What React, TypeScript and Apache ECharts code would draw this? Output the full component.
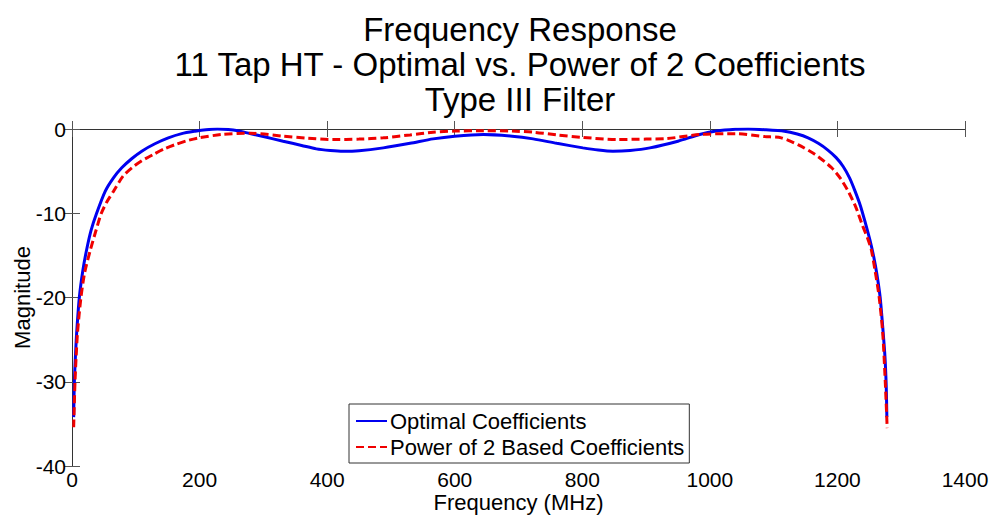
import React, { useEffect, useRef } from "react";
import * as echarts from "echarts";

const titleLines = [
  "Frequency Response",
  "11 Tap HT - Optimal vs. Power of 2 Coefficients",
  "Type III Filter",
];

const seriesNames = ["Optimal Coefficients", "Power of 2 Based Coefficients"];

// Optimal coefficients (MHz, magnitude)
const optFreq = [
  2.6, 3.7, 5.5, 7.3, 11.5, 17, 23, 30, 38.6, 52, 65, 78, 94, 110, 130, 151, 172, 193, 210, 228,
  245, 260, 279, 300, 331, 360, 383, 405, 425, 450, 488, 530, 566, 600, 645, 690, 723, 760, 801,
  825, 848, 875, 906, 950, 984, 1010, 1040, 1060, 1086, 1117, 1137, 1154, 1170, 1185, 1198, 1209,
  1219, 1227, 1236, 1244, 1251, 1257, 1262, 1267, 1271, 1274.5, 1276.5, 1277.5,
];
const optMag = [
  -34.2, -30, -26.8, -24.2, -20, -16.8, -14.3, -12, -10, -7.4, -5.8, -4.6, -3.5, -2.6, -1.75,
  -1.05, -0.55, -0.26, -0.08, 0, -0.05, -0.2, -0.54, -0.9, -1.45, -1.95, -2.36, -2.55, -2.64,
  -2.58, -2.24, -1.7, -1.17, -0.85, -0.65, -0.85, -1.17, -1.7, -2.24, -2.5, -2.64, -2.55, -2.24,
  -1.45, -0.65, -0.25, -0.03, 0, -0.08, -0.26, -0.6, -1.05, -1.7, -2.5, -3.4, -4.45, -5.8, -7.25,
  -9.1, -11.2, -13.2, -15.2, -17.3, -20, -23.5, -27, -30.5, -34.2,
];

// Power of 2 based coefficients (MHz, magnitude)
const p2Freq = [
  2.6, 4.7, 6.5, 8.6, 14, 20, 29, 37, 46, 55, 65, 80, 94, 110, 128, 145, 162, 180, 199, 235, 280,
  331, 370, 409, 450, 488, 530, 566, 600, 645, 690, 723, 760, 801, 854, 900, 932, 984, 1040, 1086,
  1112, 1138, 1164.6, 1191, 1205, 1217, 1229, 1239, 1247, 1253, 1259, 1265.5, 1271, 1275, 1278,
];
const p2Mag = [
  -35.4, -30, -27, -24.2, -20, -17, -14.3, -12.2, -10, -8.6, -7.4, -5.6, -4.6, -3.75, -3.0, -2.35,
  -1.85, -1.4, -1.05, -0.65, -0.5, -0.85, -1.1, -1.25, -1.2, -1.05, -0.7, -0.38, -0.25, -0.2,
  -0.25, -0.38, -0.7, -1.0, -1.25, -1.2, -1.15, -0.65, -0.55, -0.9, -1.05, -1.85, -3.0, -4.6,
  -5.9, -7.4, -9.3, -11.4, -12.9, -14.3, -16.8, -20, -24.2, -30, -35.5,
];

const xMin = 0;
const xMax = 1400;
const xStep = 200;
const yMin = -40;
const yMax = 0;
const yStep = 10;

const FONT = "Arial, 'Liberation Sans', sans-serif";

export default function App() {
  const ref = useRef<HTMLDivElement>(null);

  useEffect(() => {
    if (!ref.current) return;
    const chart = echarts.init(ref.current, undefined, { renderer: "svg" });
    const axisLine = { show: true, lineStyle: { color: "#333", width: 1 } };
    const tickIn = { show: true, inside: true, length: 8, lineStyle: { color: "#555", width: 1 } };
    const label = {
      color: "#000",
      fontSize: 21,
      fontFamily: FONT,
      formatter: (v: number) => String(v),
    };

    chart.setOption({
      animation: false,
      backgroundColor: "#fff",
      textStyle: { fontFamily: FONT },
      title: {
        text: titleLines.join("\n"),
        left: 515,
        top: 7,
        textAlign: "center",
        textStyle: { fontSize: 33, fontWeight: "normal", color: "#000", lineHeight: 35, fontFamily: FONT },
      },
      legend: {
        orient: "vertical",
        left: 349,
        top: 404,
        padding: [6, 5, 5, 6],
        itemGap: 4,
        itemWidth: 31,
        itemHeight: 14,
        backgroundColor: "#fff",
        borderColor: "#333",
        borderWidth: 1,
        borderRadius: 0,
        itemStyle: { opacity: 0 },
        textStyle: { fontSize: 22, color: "#000", fontFamily: FONT, padding: [0, 0, 0, -2] },
        data: seriesNames,
      },
      grid: {
        left: 72,
        right: 28,
        top: 129,
        bottom: 50,
        containLabel: false,
        outerBoundsMode: "none",
      },
      xAxis: [
        {
          type: "value",
          min: xMin,
          max: xMax,
          interval: xStep,
          position: "bottom",
          axisLine,
          axisTick: tickIn,
          axisLabel: { ...label, margin: 3 },
          splitLine: { show: false },
          name: "Frequency (MHz)",
          nameLocation: "middle",
          nameGap: 25,
          nameMoveOverlap: false,
          nameTextStyle: { fontSize: 22, color: "#000", fontFamily: FONT },
        },
        {
          type: "value",
          min: xMin,
          max: xMax,
          interval: xStep,
          position: "top",
          axisLine,
          axisTick: tickIn,
          axisLabel: { show: false },
          splitLine: { show: false },
        },
      ],
      yAxis: [
        {
          type: "value",
          min: yMin,
          max: yMax,
          interval: yStep,
          position: "left",
          axisLine,
          axisTick: tickIn,
          axisLabel: { ...label, margin: 6 },
          splitLine: { show: false },
          name: "Magnitude",
          nameLocation: "middle",
          nameGap: 39,
          nameRotate: 90,
          nameMoveOverlap: false,
          nameTextStyle: { fontSize: 22, color: "#000", fontFamily: FONT },
        },
        {
          type: "value",
          min: yMin,
          max: yMax,
          interval: yStep,
          position: "right",
          axisLine,
          axisTick: tickIn,
          axisLabel: { show: false },
          splitLine: { show: false },
        },
      ],
      series: [
        {
          name: seriesNames[0],
          type: "line",
          xAxisIndex: 0,
          yAxisIndex: 0,
          showSymbol: false,
          symbol: "none",
          smooth: 0.25,
          lineStyle: { color: "#0000f0", width: 3 },
          itemStyle: { color: "#0000f0" },
          data: optFreq.map((f, i) => [f, optMag[i]]),
          z: 3,
        },
        {
          name: seriesNames[1],
          type: "line",
          xAxisIndex: 0,
          yAxisIndex: 0,
          showSymbol: false,
          symbol: "none",
          smooth: 0.25,
          lineStyle: { color: "#f00000", width: 3, type: [8, 4] },
          itemStyle: { color: "#f00000" },
          data: p2Freq.map((f, i) => [f, p2Mag[i]]),
          z: 4,
        },
      ],
    });
    return () => chart.dispose();
  }, []);

  return (
    <div
      ref={ref}
      style={{ position: "fixed", left: 0, top: 0, width: 993, height: 516, background: "#fff" }}
    />
  );
}
